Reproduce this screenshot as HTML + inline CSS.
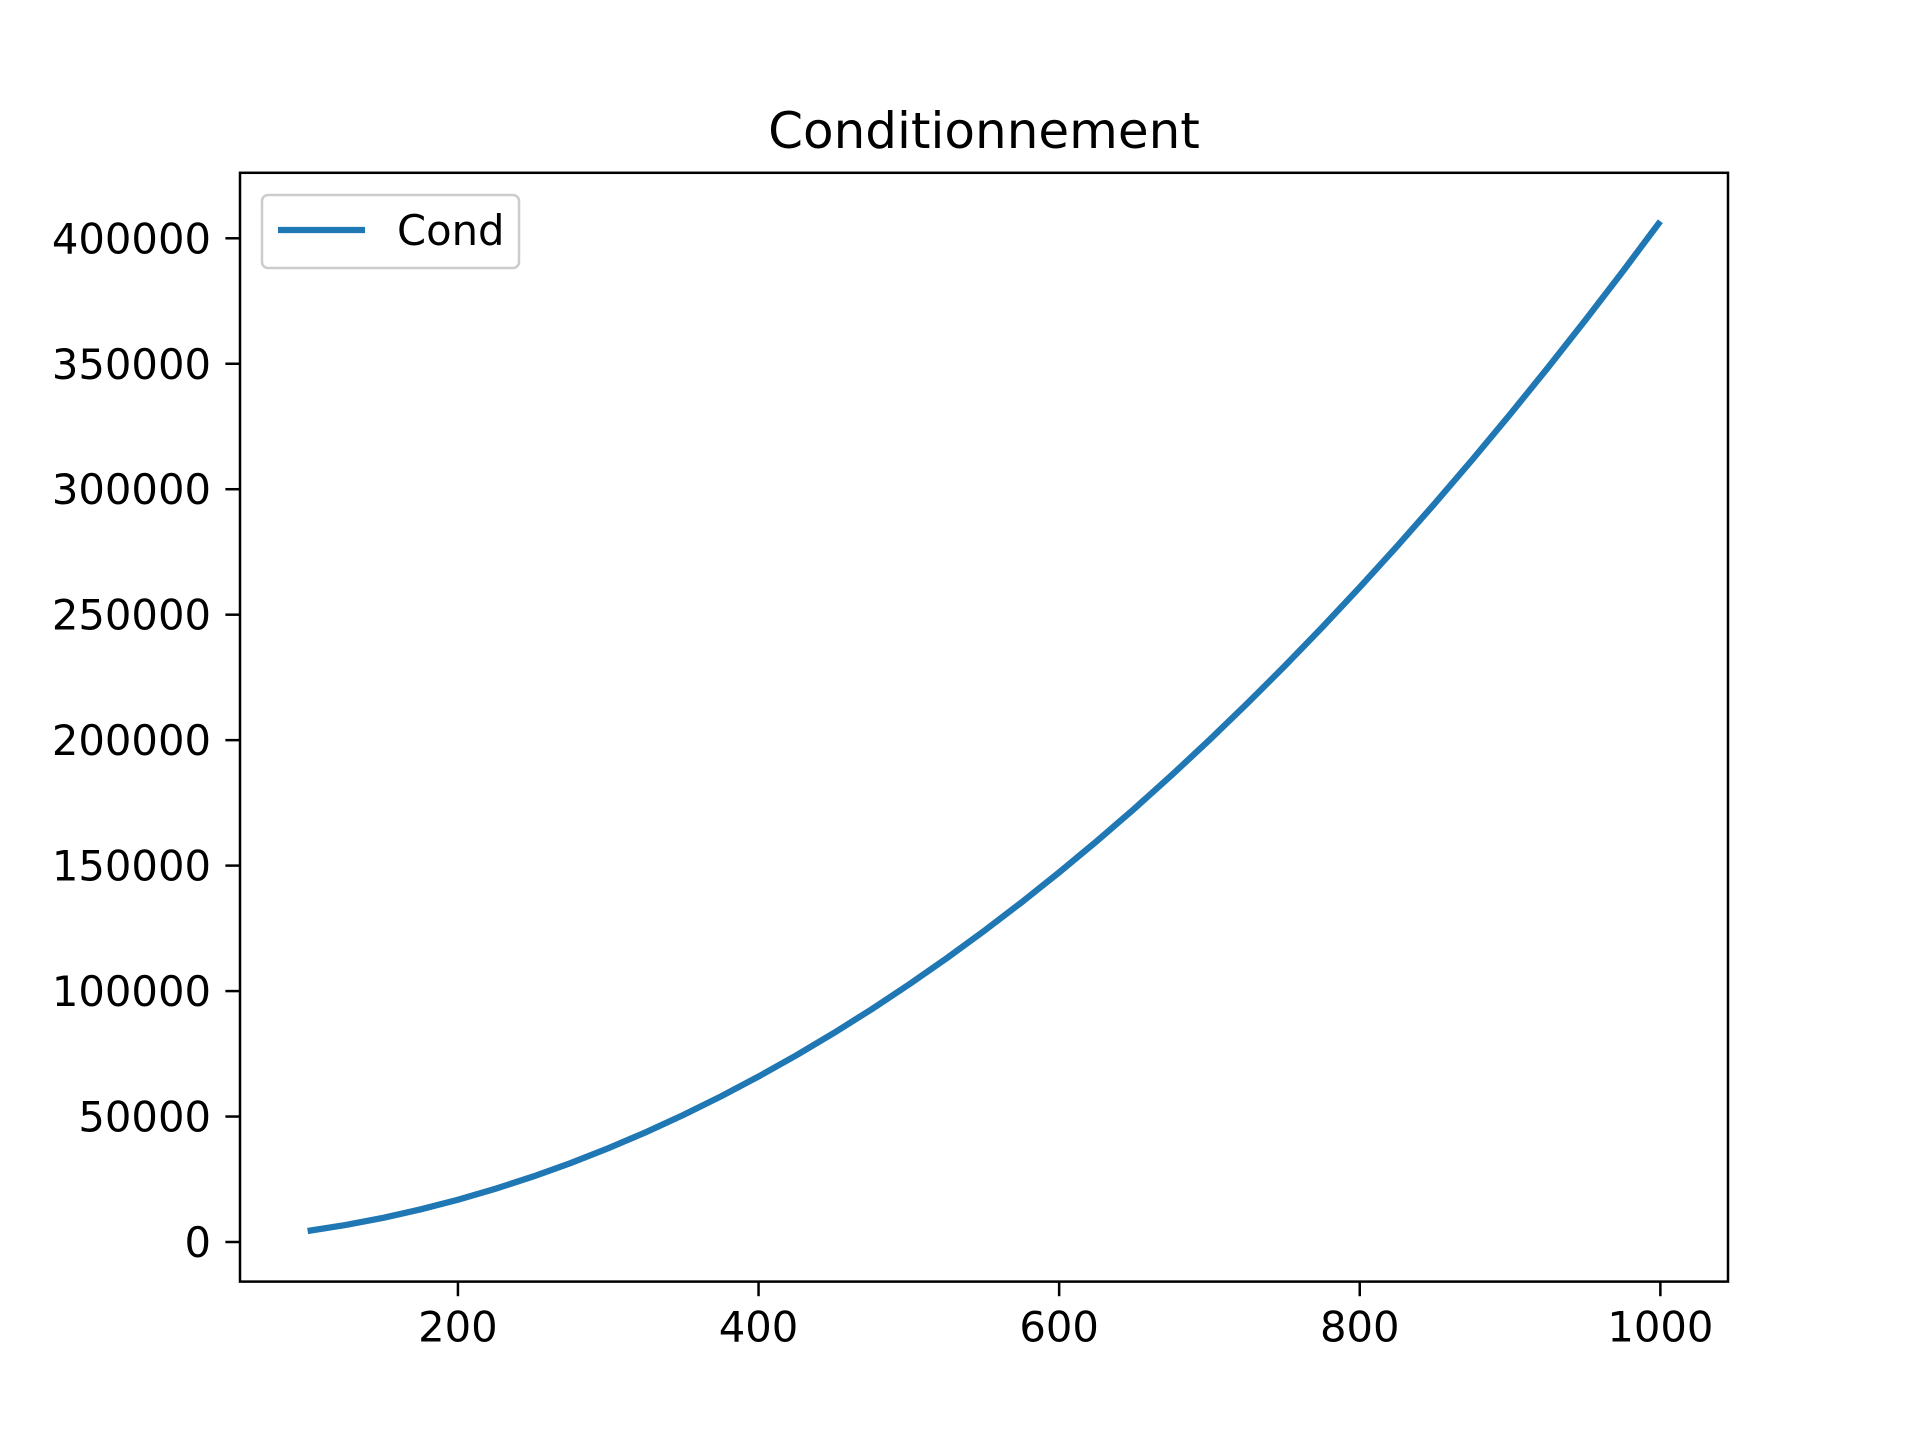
<!DOCTYPE html>
<html><head><meta charset="utf-8"><style>
html,body{margin:0;padding:0;background:#fff;}
svg{display:block;font-family:"DejaVu Sans","Liberation Sans",sans-serif;}
</style></head><body>
<svg id="chart" width="1920" height="1440" viewBox="0 0 1920 1440" xmlns="http://www.w3.org/2000/svg">
<rect width="1920" height="1440" fill="#fff"/>
<text x="984" y="148" font-size="50" text-anchor="middle" fill="#000">Conditionnement</text>
<g id="marks"></g>
<g id="axes"></g>
<rect x="240" y="172.8" width="1488" height="1108.8" fill="none" stroke="#000" stroke-width="2.5"/>
<g>
<rect x="262" y="195" width="257" height="73" rx="6" fill="#fff" fill-opacity="0.8" stroke="#ccc" stroke-width="2.5"/>
<line x1="278" y1="230" x2="365" y2="230" stroke="#1f77b4" stroke-width="6.25"/>
<text x="397" y="245" font-size="41.7" fill="#000">Cond</text>
</g>
</svg>
<script>
const xValues = [100,125,150,175,200,225,250,275,300,325,350,375,400,425,450,475,500,525,550,575,600,625,650,675,700,725,750,775,800,825,850,875,900,925,950,975,1000];
const condValues = [4388,6745,9606,12971,16840,21213,26091,31472,37358,43747,50641,58038,65940,74346,83256,92669,102588,113010,123936,135366,147300,159739,172681,186127,200078,214532,229491,244953,260920,277391,294366,311844,329828,348315,367306,386801,406800];
const xTicks = [200,400,600,800,1000];
const yTicks = [0,50000,100000,150000,200000,250000,300000,350000,400000];

const L=240,R=1728,T=172.8,B=1281.6;
const xmin=55,xmax=1045,ymin=-15781,ymax=426099;
const sx=v=>L+(v-xmin)/(xmax-xmin)*(R-L);
const sy=v=>B-(v-ymin)/(ymax-ymin)*(B-T);
const NS="http://www.w3.org/2000/svg";
const marks=document.getElementById('marks'), axes=document.getElementById('axes');

const path=document.createElementNS(NS,'path');


path.setAttribute('d',xValues.map((x,i)=>(i?'L':'M')+sx(x).toFixed(2)+' '+sy(condValues[i]).toFixed(2)).join(' '));
path.setAttribute('fill','none');path.setAttribute('stroke','#1f77b4');
path.setAttribute('stroke-width','6.25');path.setAttribute('stroke-linejoin','round');
marks.appendChild(path);

xTicks.forEach(v=>{
  const x=sx(v);
  const l=document.createElementNS(NS,'line');
  
  
  l.setAttribute('x1',x);l.setAttribute('x2',x);l.setAttribute('y1',B);l.setAttribute('y2',B+14.6);
  l.setAttribute('stroke','#000');l.setAttribute('stroke-width','2.5');axes.appendChild(l);
  const t=document.createElementNS(NS,'text');
  
  
  t.setAttribute('x',x);t.setAttribute('y',B+60);t.setAttribute('font-size','41.7');
  t.setAttribute('text-anchor','middle');t.textContent=v;axes.appendChild(t);
});
yTicks.forEach(v=>{
  const y=sy(v);
  const l=document.createElementNS(NS,'line');
  
  
  l.setAttribute('x1',L-14.6);l.setAttribute('x2',L);l.setAttribute('y1',y);l.setAttribute('y2',y);
  l.setAttribute('stroke','#000');l.setAttribute('stroke-width','2.5');axes.appendChild(l);
  const t=document.createElementNS(NS,'text');
  
  
  t.setAttribute('x',L-29);t.setAttribute('y',y+15);t.setAttribute('font-size','41.7');
  t.setAttribute('text-anchor','end');t.textContent=v;axes.appendChild(t);
});
</script>
</body></html>
